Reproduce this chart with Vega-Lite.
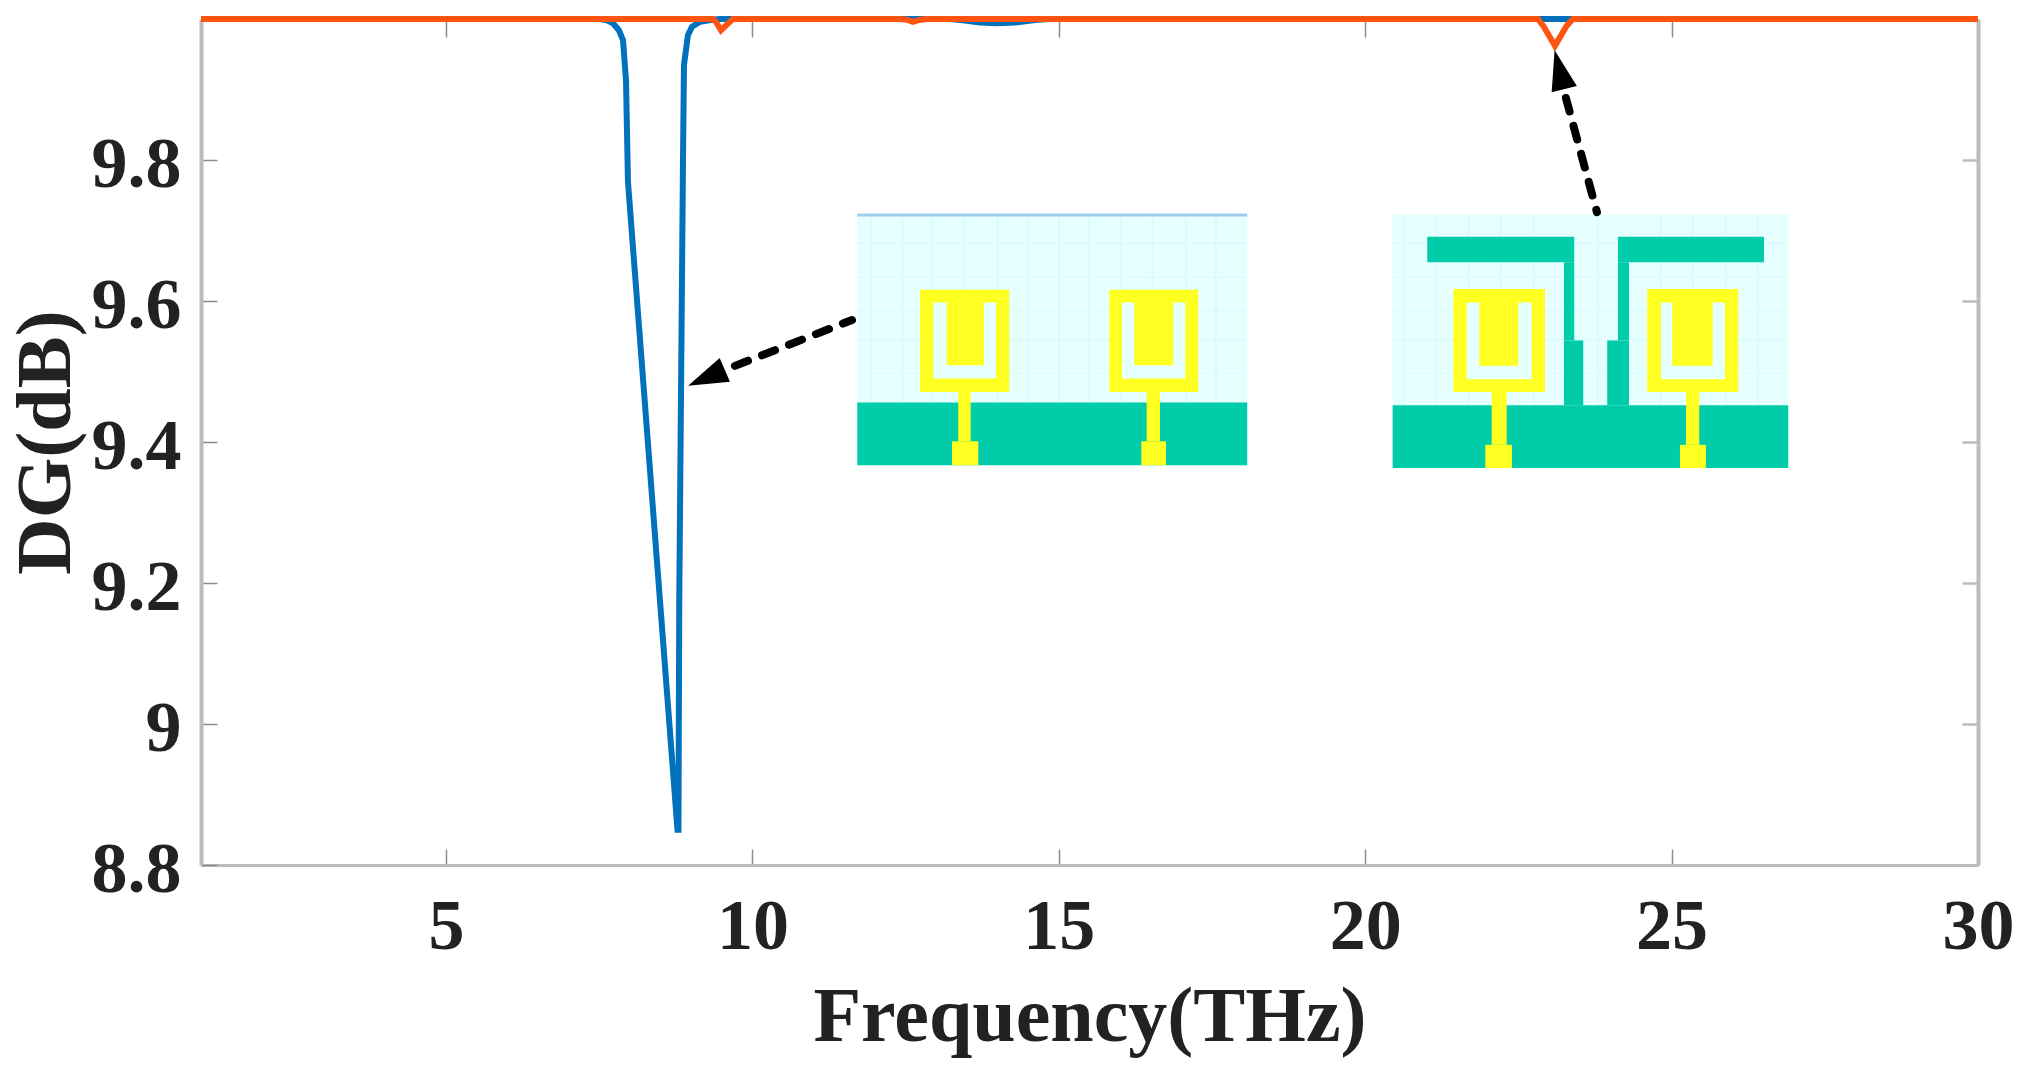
{
  "$schema": "https://vega.github.io/schema/vega-lite/v6.json",
  "width": 1777,
  "height": 846,
  "autosize": {"type": "none"},
  "padding": {"left": 201, "top": 19, "right": 55, "bottom": 222},
  "background": "white",
  "config": {
    "view": {"stroke": null},
    "axis": {
      "grid": false,
      "labelFont": "Liberation Serif",
      "labelFontWeight": "bold",
      "labelFontSize": 72,
      "labelColor": "#222222",
      "titleFont": "Liberation Serif",
      "titleFontWeight": "bold",
      "titleFontSize": 78,
      "titleColor": "#222222",
      "domainColor": "#bcbcbc",
      "tickColor": "#8c8c8c",
      "tickWidth": 1.5,
      "tickSize": -16
    }
  },
  "datasets": {
    "inset": [
      {"x": 11.71, "x2": 18.074, "y": 9.722, "y2": 9.367, "part": "board"},
      {"x": 11.917, "x2": 11.945, "y": 9.722, "y2": 9.456, "part": "grid"},
      {"x": 12.435, "x2": 12.463, "y": 9.722, "y2": 9.456, "part": "grid"},
      {"x": 12.924, "x2": 12.952, "y": 9.722, "y2": 9.456, "part": "grid"},
      {"x": 13.44, "x2": 13.468, "y": 9.722, "y2": 9.456, "part": "grid"},
      {"x": 13.985, "x2": 14.013, "y": 9.722, "y2": 9.456, "part": "grid"},
      {"x": 14.475, "x2": 14.503, "y": 9.722, "y2": 9.456, "part": "grid"},
      {"x": 14.99, "x2": 15.018, "y": 9.722, "y2": 9.456, "part": "grid"},
      {"x": 15.48, "x2": 15.508, "y": 9.722, "y2": 9.456, "part": "grid"},
      {"x": 16.0, "x2": 16.028, "y": 9.722, "y2": 9.456, "part": "grid"},
      {"x": 16.515, "x2": 16.543, "y": 9.722, "y2": 9.456, "part": "grid"},
      {"x": 17.06, "x2": 17.088, "y": 9.722, "y2": 9.456, "part": "grid"},
      {"x": 17.55, "x2": 17.578, "y": 9.722, "y2": 9.456, "part": "grid"},
      {"x": 11.71, "x2": 18.074, "y": 9.683, "y2": 9.681, "part": "grid"},
      {"x": 11.71, "x2": 18.074, "y": 9.635, "y2": 9.633, "part": "grid"},
      {"x": 11.71, "x2": 18.074, "y": 9.588, "y2": 9.586, "part": "grid"},
      {"x": 11.71, "x2": 18.074, "y": 9.546, "y2": 9.544, "part": "grid"},
      {"x": 11.71, "x2": 18.074, "y": 9.499, "y2": 9.497, "part": "grid"},
      {"x": 11.71, "x2": 18.074, "y": 9.724, "y2": 9.72, "part": "edge"},
      {"x": 11.71, "x2": 18.074, "y": 9.456, "y2": 9.367, "part": "ground"},
      {"x": 12.733, "x2": 14.191, "y": 9.616, "y2": 9.471, "part": "patch"},
      {"x": 12.95, "x2": 13.974, "y": 9.598, "y2": 9.49, "part": "board"},
      {"x": 13.169, "x2": 13.778, "y": 9.601, "y2": 9.509, "part": "patch"},
      {"x": 13.358, "x2": 13.561, "y": 9.471, "y2": 9.401, "part": "patch"},
      {"x": 13.256, "x2": 13.685, "y": 9.401, "y2": 9.367, "part": "patch"},
      {"x": 15.823, "x2": 17.275, "y": 9.616, "y2": 9.471, "part": "patch"},
      {"x": 16.03, "x2": 17.063, "y": 9.598, "y2": 9.49, "part": "board"},
      {"x": 16.231, "x2": 16.867, "y": 9.601, "y2": 9.509, "part": "patch"},
      {"x": 16.433, "x2": 16.65, "y": 9.471, "y2": 9.401, "part": "patch"},
      {"x": 16.345, "x2": 16.748, "y": 9.401, "y2": 9.367, "part": "patch"},

      {"x": 20.447, "x2": 26.903, "y": 9.723, "y2": 9.363, "part": "board"},
      {"x": 20.615, "x2": 20.643, "y": 9.723, "y2": 9.452, "part": "grid"},
      {"x": 21.138, "x2": 21.166, "y": 9.723, "y2": 9.452, "part": "grid"},
      {"x": 21.676, "x2": 21.704, "y": 9.723, "y2": 9.452, "part": "grid"},
      {"x": 22.198, "x2": 22.226, "y": 9.723, "y2": 9.452, "part": "grid"},
      {"x": 22.737, "x2": 22.765, "y": 9.723, "y2": 9.452, "part": "grid"},
      {"x": 23.781, "x2": 23.809, "y": 9.723, "y2": 9.452, "part": "grid"},
      {"x": 24.809, "x2": 24.837, "y": 9.723, "y2": 9.452, "part": "grid"},
      {"x": 25.332, "x2": 25.36, "y": 9.723, "y2": 9.452, "part": "grid"},
      {"x": 25.87, "x2": 25.898, "y": 9.723, "y2": 9.452, "part": "grid"},
      {"x": 26.392, "x2": 26.42, "y": 9.723, "y2": 9.452, "part": "grid"},
      {"x": 20.447, "x2": 26.903, "y": 9.683, "y2": 9.681, "part": "grid"},
      {"x": 20.447, "x2": 26.903, "y": 9.635, "y2": 9.633, "part": "grid"},
      {"x": 20.447, "x2": 26.903, "y": 9.588, "y2": 9.586, "part": "grid"},
      {"x": 20.447, "x2": 26.903, "y": 9.546, "y2": 9.544, "part": "grid"},
      {"x": 20.447, "x2": 26.903, "y": 9.499, "y2": 9.497, "part": "grid"},
      {"x": 20.447, "x2": 26.903, "y": 9.452, "y2": 9.363, "part": "ground"},
      {"x": 21.012, "x2": 23.411, "y": 9.691, "y2": 9.655, "part": "ground"},
      {"x": 23.243, "x2": 23.411, "y": 9.655, "y2": 9.544, "part": "ground"},
      {"x": 23.243, "x2": 23.558, "y": 9.544, "y2": 9.452, "part": "ground"},
      {"x": 24.124, "x2": 26.507, "y": 9.691, "y2": 9.655, "part": "ground"},
      {"x": 24.124, "x2": 24.304, "y": 9.655, "y2": 9.544, "part": "ground"},
      {"x": 23.949, "x2": 24.304, "y": 9.544, "y2": 9.452, "part": "ground"},
      {"x": 21.436, "x2": 22.933, "y": 9.617, "y2": 9.471, "part": "patch"},
      {"x": 21.655, "x2": 22.716, "y": 9.598, "y2": 9.489, "part": "board"},
      {"x": 21.861, "x2": 22.497, "y": 9.601, "y2": 9.508, "part": "patch"},
      {"x": 22.063, "x2": 22.308, "y": 9.471, "y2": 9.396, "part": "patch"},
      {"x": 21.959, "x2": 22.394, "y": 9.396, "y2": 9.363, "part": "patch"},
      {"x": 24.602, "x2": 26.087, "y": 9.617, "y2": 9.471, "part": "patch"},
      {"x": 24.826, "x2": 25.87, "y": 9.598, "y2": 9.489, "part": "board"},
      {"x": 25.01, "x2": 25.669, "y": 9.601, "y2": 9.508, "part": "patch"},
      {"x": 25.234, "x2": 25.451, "y": 9.471, "y2": 9.396, "part": "patch"},
      {"x": 25.136, "x2": 25.56, "y": 9.396, "y2": 9.363, "part": "patch"}
    ],
    "blue": [
      {"freq": 1, "dg": 10},
      {"freq": 7.511, "dg": 10},
      {"freq": 7.626, "dg": 9.998},
      {"freq": 7.723, "dg": 9.994},
      {"freq": 7.821, "dg": 9.984},
      {"freq": 7.887, "dg": 9.97},
      {"freq": 7.936, "dg": 9.913},
      {"freq": 7.968, "dg": 9.769},
      {"freq": 8.776, "dg": 8.85},
      {"freq": 8.792, "dg": 8.85},
      {"freq": 8.805, "dg": 9.176},
      {"freq": 8.866, "dg": 9.8},
      {"freq": 8.882, "dg": 9.935},
      {"freq": 8.947, "dg": 9.977},
      {"freq": 9.013, "dg": 9.989},
      {"freq": 9.143, "dg": 9.996},
      {"freq": 9.339, "dg": 9.999},
      {"freq": 9.47, "dg": 10},
      {"freq": 13.223, "dg": 10},
      {"freq": 13.468, "dg": 9.998},
      {"freq": 13.712, "dg": 9.995},
      {"freq": 13.99, "dg": 9.994},
      {"freq": 14.284, "dg": 9.995},
      {"freq": 14.643, "dg": 9.999},
      {"freq": 14.855, "dg": 10},
      {"freq": 30, "dg": 10}
    ],
    "orange": [
      {"freq": 1, "dg": 10},
      {"freq": 9.355, "dg": 10},
      {"freq": 9.404, "dg": 9.996},
      {"freq": 9.486, "dg": 9.984},
      {"freq": 9.568, "dg": 9.991},
      {"freq": 9.682, "dg": 10},
      {"freq": 12.407, "dg": 10},
      {"freq": 12.521, "dg": 9.999},
      {"freq": 12.619, "dg": 9.996},
      {"freq": 12.733, "dg": 9.999},
      {"freq": 12.864, "dg": 10},
      {"freq": 22.818, "dg": 10},
      {"freq": 22.9, "dg": 9.991},
      {"freq": 23.096, "dg": 9.962},
      {"freq": 23.292, "dg": 9.991},
      {"freq": 23.39, "dg": 10},
      {"freq": 30, "dg": 10}
    ]
  },
  "layer": [
    {
      "data": {"name": "inset"},
      "mark": {"type": "rect", "strokeWidth": 0},
      "encoding": {
        "x": {"field": "x", "type": "quantitative", "axis": null, "scale": {"domain": [1, 30], "nice": false, "zero": false}},
        "x2": {"field": "x2"},
        "y": {"field": "y", "type": "quantitative", "axis": null, "scale": {"domain": [8.8, 10], "nice": false, "zero": false}},
        "y2": {"field": "y2"},
        "color": {
          "field": "part",
          "type": "nominal",
          "legend": null,
          "scale": {
            "domain": ["board", "grid", "edge", "ground", "patch"],
            "range": ["#e6ffff", "#d8fbff", "#9ccff0", "#00ccaa", "#ffff22"]
          }
        }
      }
    },
    {
      "data": {"values": [
        {"freq": 11.624, "dg": 9.573},
        {"freq": 9.714, "dg": 9.508}
      ]},
      "mark": {"type": "line", "color": "black", "strokeWidth": 8, "strokeDash": [14, 15], "strokeCap": "round"},
      "encoding": {
        "x": {"field": "freq", "type": "quantitative", "axis": null, "sort": null, "scale": {"domain": [1, 30], "nice": false, "zero": false}},
        "y": {"field": "dg", "type": "quantitative", "axis": null, "scale": {"domain": [8.8, 10], "nice": false, "zero": false}}
      }
    },
    {
      "data": {"values": [
        {"freq": 23.781, "dg": 9.726},
        {"freq": 23.275, "dg": 9.888}
      ]},
      "mark": {"type": "line", "color": "black", "strokeWidth": 8, "strokeDash": [14, 15], "strokeCap": "round"},
      "encoding": {
        "x": {"field": "freq", "type": "quantitative", "axis": null, "sort": null, "scale": {"domain": [1, 30], "nice": false, "zero": false}},
        "y": {"field": "dg", "type": "quantitative", "axis": null, "scale": {"domain": [8.8, 10], "nice": false, "zero": false}}
      }
    },
    {
      "data": {"name": "blue"},
      "mark": {"type": "line", "color": "#0072BD", "strokeWidth": 6},
      "encoding": {
        "x": {
          "field": "freq",
          "type": "quantitative",
          "scale": {"domain": [1, 30], "nice": false, "zero": false},
          "axis": {"title": "Frequency(THz)", "orient": "bottom", "values": [5, 10, 15, 20, 25, 30], "labelPadding": 42, "titlePadding": 16, "domainWidth": 3, "labelFlush": false}
        },
        "y": {
          "field": "dg",
          "type": "quantitative",
          "scale": {"domain": [8.8, 10], "nice": false, "zero": false},
          "axis": {"title": "DG(dB)", "orient": "left", "values": [8.8, 9, 9.2, 9.4, 9.6, 9.8], "format": ".1~f", "labelPadding": 36, "labelOffset": 4, "titlePadding": 6, "domainWidth": 4}
        }
      }
    },
    {
      "data": {"name": "orange"},
      "mark": {"type": "line", "color": "#FD5412", "strokeWidth": 6},
      "encoding": {
        "x": {
          "field": "freq",
          "type": "quantitative",
          "scale": {"domain": [1, 30], "nice": false, "zero": false},
          "axis": {"title": null, "orient": "top", "values": [5, 10, 15, 20, 25], "labels": false, "tickSize": -18}
        },
        "y": {
          "field": "dg",
          "type": "quantitative",
          "scale": {"domain": [8.8, 10], "nice": false, "zero": false},
          "axis": {"title": null, "orient": "right", "values": [9, 9.2, 9.4, 9.6, 9.8], "labels": false, "domainWidth": 4, "tickColor": "#bcbcbc", "tickWidth": 2.5}
        }
      }
    },
    {
      "data": {"values": [{"freq": 9.249, "dg": 9.491}]},
      "mark": {"type": "point", "shape": "M0,-1 L0.65,1 L-0.65,1 Z", "filled": true, "opacity": 1, "color": "black", "size": 1600, "angle": 246.6},
      "encoding": {
        "x": {"field": "freq", "type": "quantitative", "axis": null, "scale": {"domain": [1, 30], "nice": false, "zero": false}},
        "y": {"field": "dg", "type": "quantitative", "axis": null, "scale": {"domain": [8.8, 10], "nice": false, "zero": false}}
      }
    },
    {
      "data": {"values": [{"freq": 23.169, "dg": 9.928}]},
      "mark": {"type": "point", "shape": "M0,-1 L0.65,1 L-0.65,1 Z", "filled": true, "opacity": 1, "color": "black", "size": 1600, "angle": 346},
      "encoding": {
        "x": {"field": "freq", "type": "quantitative", "axis": null, "scale": {"domain": [1, 30], "nice": false, "zero": false}},
        "y": {"field": "dg", "type": "quantitative", "axis": null, "scale": {"domain": [8.8, 10], "nice": false, "zero": false}}
      }
    }
  ],
  "resolve": {"axis": {"x": "independent", "y": "independent"}}
}
